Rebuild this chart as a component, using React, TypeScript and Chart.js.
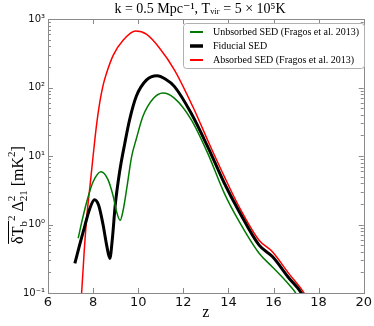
import React, { useEffect, useRef } from "react";
import { Chart, registerables } from "chart.js";

Chart.register(...registerables);

const zUnabs = [7.34, 7.5, 7.71, 8.0, 8.35, 8.65, 8.89, 9.05, 9.2, 9.33, 9.5, 9.7, 9.92, 10.21, 10.65, 11.1, 11.6, 12.35, 13.08, 13.82, 14.48, 15.36, 15.95, 16.69, 16.98, 17.2];
const tbUnabs = [0.63, 1.1, 2.1, 4.2, 5.9, 4.6, 2.6, 1.5, 1.15, 1.6, 3.5, 9.5, 18, 38, 68, 83, 70, 34, 11, 2.85, 1.1, 0.38, 0.24, 0.132, 0.1, 0.07];

const zFid = [7.19, 7.4, 7.63, 7.85, 8.06, 8.25, 8.44, 8.6, 8.74, 8.86, 8.98, 9.18, 9.4, 9.62, 9.92, 10.36, 10.83, 11.2, 11.61, 12.35, 13.08, 13.82, 14.48, 15.36, 15.95, 16.69, 17.23, 17.4];
const tbFid = [0.27, 0.5, 0.95, 1.7, 2.3, 1.9, 1.0, 0.5, 0.32, 0.65, 1.9, 6.0, 15, 34, 75, 128, 148, 133, 103, 42, 13.7, 4.0, 1.54, 0.5, 0.34, 0.164, 0.1, 0.075];

const zAbs = [7.45, 7.49, 7.6, 7.71, 7.86, 8.0, 8.15, 8.3, 8.45, 8.59, 8.89, 9.33, 9.89, 10.36, 10.95, 11.61, 12.49, 13.08, 13.82, 14.48, 15.36, 15.95, 16.69, 17.35, 17.5];
const tbAbs = [0.07, 0.1, 0.38, 1.2, 3.6, 10, 28, 62, 110, 160, 295, 490, 668, 600, 375, 180, 47, 17, 5.0, 1.8, 0.59, 0.4, 0.19, 0.1, 0.08];

const seriesLabels = [
  "Unbsorbed SED (Fragos et al. 2013)",
  "Fiducial SED",
  "Absorbed SED (Fragos et al. 2013)",
];
const seriesColors = ["#007a00", "#000000", "#ff0000"];
const seriesWidths = [1.5, 3, 1.5];

const xTicks = [6, 8, 10, 12, 14, 16, 18, 20];
const yTicks = [0.1, 1, 10, 100, 1000];
const titleText = "k = 0.5 Mpc\u207B\u00B9, T\u1D65\u1D62\u1D63 = 5 \u00D7 10\u2075K";
const xTitle = "z";

const SUP: Record<string, string> = { "-": "\u207B", "0": "\u2070", "1": "\u00B9", "2": "\u00B2", "3": "\u00B3" };
const supStr = (n: number) => String(n).split("").map((c) => SUP[c] || c).join("");

const SERIF = "'Liberation Serif', 'DejaVu Serif', serif";
const SANS = "'DejaVu Sans', sans-serif";

const decorPlugin = {
  id: "decor",
  afterDraw(chart: any) {
    const { ctx, chartArea: a, scales } = chart;
    const xs = scales.x, ys = scales.y;
    ctx.save();
    // frame
    ctx.strokeStyle = "#8a8a8a";
    ctx.lineWidth = 1;
    ctx.strokeRect(Math.round(a.left) + 0.5, Math.round(a.top) + 0.5, Math.round(a.right - a.left), Math.round(a.bottom - a.top));
    // x ticks
    ctx.beginPath();
    xTicks.forEach((v) => {
      const px = Math.round(xs.getPixelForValue(v)) + 0.5;
      ctx.moveTo(px, a.bottom); ctx.lineTo(px, a.bottom - 5);
      ctx.moveTo(px, a.top); ctx.lineTo(px, a.top + 5);
    });
    // y ticks major + minor
    for (let e = -1; e <= 3; e++) {
      for (let m = 1; m <= 9; m++) {
        const v = m * Math.pow(10, e);
        if (v > 1000.0001) break;
        const py = Math.round(ys.getPixelForValue(v)) + 0.5;
        const len = m === 1 ? 5 : 3;
        ctx.moveTo(a.left, py); ctx.lineTo(a.left + len, py);
        ctx.moveTo(a.right, py); ctx.lineTo(a.right - len, py);
      }
    }
    ctx.stroke();

    // title
    ctx.fillStyle = "#000";
    ctx.font = `14px ${SERIF}`;
    ctx.textAlign = "center";
    ctx.textBaseline = "middle";
    ctx.fillText(titleText, 200, 9);

    // x title
    ctx.font = `16px ${SERIF}`;
    ctx.fillText(xTitle, (a.left + a.right) / 2, 313);

    // y title (rotated, with sub/superscripts)
    type Seg = { t: string; s: number; dy: number; stack?: boolean };
    const segs: Seg[] = [
      { t: "\u03B4T", s: 16, dy: 0 },
      { t: "b", s: 11, dy: 4 },
      { t: "2", s: 11, dy: -8 },
      { t: " \u0394", s: 16, dy: 0 },
      { t: "2", s: 11, dy: -8, stack: true },
      { t: "21", s: 11, dy: 4 },
      { t: " [mK", s: 16, dy: 0 },
      { t: "2", s: 11, dy: -8 },
      { t: "]", s: 16, dy: 0 },
    ];
    const widths = segs.map((sg) => { ctx.font = `${sg.s}px ${SERIF}`; return ctx.measureText(sg.t).width; });
    let total = 0;
    segs.forEach((sg, i) => {
      if (sg.stack) return;
      if (i > 0 && segs[i - 1].stack) total += Math.max(widths[i], widths[i - 1]);
      else total += widths[i];
    });
    ctx.translate(18, 195);
    ctx.rotate(-Math.PI / 2);
    ctx.textAlign = "left";
    ctx.textBaseline = "alphabetic";
    let x = -total / 2;
    const startBar = x;
    let endBar = x;
    segs.forEach((sg, i) => {
      ctx.font = `${sg.s}px ${SERIF}`;
      ctx.fillText(sg.t, x, 5 + sg.dy);
      if (sg.stack) return;
      if (i > 0 && segs[i - 1].stack) x += Math.max(widths[i], widths[i - 1]);
      else x += widths[i];
      if (i === 1) endBar = x;
    });
    ctx.beginPath();
    ctx.lineWidth = 1;
    ctx.strokeStyle = "#000";
    ctx.moveTo(startBar, -9.5); ctx.lineTo(endBar, -9.5);
    ctx.stroke();
    ctx.setTransform(1, 0, 0, 1, 0, 0);

    // legend
    const lx = 183, ly = 23, lw = 181, lh = 45;
    ctx.fillStyle = "#ffffff";
    ctx.strokeStyle = "#b0b0b0";
    ctx.lineWidth = 1;
    ctx.beginPath();
    (ctx as any).roundRect(lx + 0.5, ly + 0.5, lw, lh, 3);
    ctx.fill();
    ctx.stroke();
    const rows = [32, 46, 60];
    chart.data.datasets.forEach((ds: any, i: number) => {
      ctx.beginPath();
      ctx.strokeStyle = ds.borderColor;
      ctx.lineWidth = ds.borderWidth + 0.5;
      ctx.moveTo(190, rows[i]); ctx.lineTo(203, rows[i]);
      ctx.stroke();
      ctx.fillStyle = "#000";
      ctx.font = `10px ${SERIF}`;
      ctx.textBaseline = "middle";
      ctx.textAlign = "left";
      ctx.fillText(ds.label, 213, rows[i] + 0.5);
    });
    ctx.restore();
  },
};

export default function App() {
  const ref = useRef<HTMLCanvasElement | null>(null);
  useEffect(() => {
    document.body.style.margin = "0";
    const zs = [zUnabs, zFid, zAbs];
    const vs = [tbUnabs, tbFid, tbAbs];
    const chart = new Chart(ref.current as HTMLCanvasElement, {
      type: "line",
      data: {
        datasets: seriesLabels.map((label, i) => ({
          label,
          data: zs[i].map((z, j) => ({ x: z, y: vs[i][j] })),
          borderColor: seriesColors[i],
          backgroundColor: seriesColors[i],
          borderWidth: seriesWidths[i],
          pointRadius: 0,
          cubicInterpolationMode: "monotone" as const,
          fill: false,
        })),
      },
      options: {
        responsive: false,
        animation: false,
        layout: { padding: { top: 19, right: 9, left: 0, bottom: 0 } },
        plugins: { legend: { display: false }, title: { display: false }, tooltip: { enabled: false } },
        scales: {
          x: {
            type: "linear",
            min: 6,
            max: 20,
            grid: { display: false, drawTicks: false },
            border: { display: false },
            afterBuildTicks: (s: any) => { s.ticks = xTicks.map((v) => ({ value: v })); },
            ticks: { font: { family: SANS, size: 13 }, color: "#111", padding: 2, autoSkip: false, maxRotation: 0 },
            afterFit: (s: any) => { s.height = 33; },
          },
          y: {
            type: "logarithmic",
            min: 0.1,
            max: 1000,
            grid: { display: false, drawTicks: false },
            border: { display: false },
            afterBuildTicks: (s: any) => { s.ticks = yTicks.map((v) => ({ value: v })); },
            ticks: {
              font: { family: SANS, size: 10 },
              color: "#111",
              padding: 3,
              autoSkip: false,
              callback: (v: any) => "10" + supStr(Math.round(Math.log10(Number(v)))),
            },
            afterFit: (s: any) => { s.width = 48; },
          },
        },
      },
      plugins: [decorPlugin],
    });
    return () => chart.destroy();
  }, []);
  return (
    <div style={{ width: 374, height: 326 }}>
      <canvas ref={ref} width={374} height={326} />
    </div>
  );
}
